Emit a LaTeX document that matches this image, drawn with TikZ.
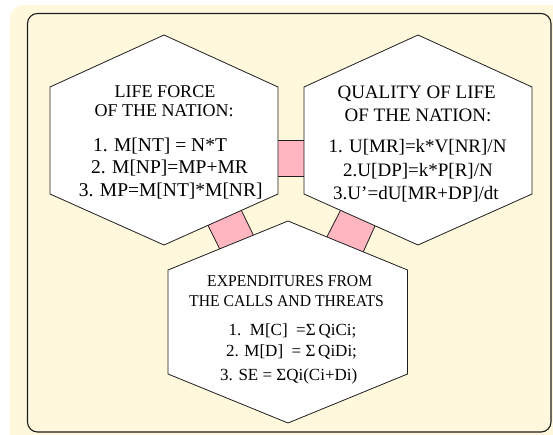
\documentclass[tikz,border=0pt]{standalone}
\usepackage{fontspec}
\setmainfont{Liberation Serif}
\newfontfamily\condfont[FakeStretch=0.95]{Liberation Serif}
\definecolor{cream}{RGB}{255,248,220}
\definecolor{linkpink}{RGB}{255,182,193}
\definecolor{inkgray}{RGB}{30,30,30}
\begin{document}
\begin{tikzpicture}[x=1pt,y=-1pt,
  hexbox/.style={draw=inkgray, fill=white, line width=0.8pt, line join=miter},
  linkbox/.style={fill=linkpink, draw=none},
  linkside/.style={draw=inkgray, line width=0.8pt},
  txt/.style={anchor=base, inner sep=0pt, text=black},
  headL/.style={txt, font=\fontsize{18}{20}\selectfont},
  headR/.style={txt, font=\fontsize{19}{21}\selectfont},
  headB/.style={txt, font=\condfont\fontsize{16.5}{18}\selectfont},
  formL/.style={txt, font=\fontsize{19.5}{21}\selectfont},
  formR/.style={txt, font=\fontsize{19}{21}\selectfont},
  formB/.style={txt, font=\fontsize{17}{19}\selectfont}]
\useasboundingbox (0,0) rectangle (553,434);
% background and frame
\fill[cream, rounded corners=14pt] (10,5) rectangle (580,460);
\draw[inkgray, line width=1.1pt, fill=cream, rounded corners=10pt] (27.5,13.5) rectangle (551,432);

% hexagon corners
\coordinate (L1) at (164,35);  \coordinate (L2) at (278,87);  \coordinate (L3) at (278,194);
\coordinate (L4) at (164,245); \coordinate (L5) at (50,194);  \coordinate (L6) at (50,87);
\coordinate (R1) at (418,35);  \coordinate (R2) at (532,87);  \coordinate (R3) at (532,194);
\coordinate (R4) at (418,245); \coordinate (R5) at (304,194); \coordinate (R6) at (304,87);
\coordinate (B1) at (288,221); \coordinate (B2) at (407.5,270); \coordinate (B3) at (407.5,374);
\coordinate (B4) at (288,423); \coordinate (B5) at (168,374); \coordinate (B6) at (168,270);

% connector corners
\coordinate (c1a) at (272,140); \coordinate (c1b) at (310,140);
\coordinate (c1c) at (310,176); \coordinate (c1d) at (272,176);
\coordinate (c2a) at (205.5,220.5); \coordinate (c2b) at (239.5,206.5);
\coordinate (c2c) at (255.5,239.5); \coordinate (c2d) at (222.2,253.8);
\coordinate (c3a) at (341.8,207.8); \coordinate (c3b) at (377.5,220.5);
\coordinate (c3c) at (360.8,257.2); \coordinate (c3d) at (324.2,242.2);

% connectors
\fill[linkbox] (c1a) -- (c1b) -- (c1c) -- (c1d) -- cycle;
\draw[linkside] (c1a) -- (c1b) (c1d) -- (c1c);
\fill[linkbox] (c2a) -- (c2b) -- (c2c) -- (c2d) -- cycle;
\draw[linkside] (c2b) -- (c2c) (c2a) -- (c2d);
\fill[linkbox] (c3a) -- (c3b) -- (c3c) -- (c3d) -- cycle;
\draw[linkside] (c3b) -- (c3c) (c3a) -- (c3d);

% hexagons
\draw[hexbox] (L1) -- (L2) -- (L3) -- (L4) -- (L5) -- (L6) -- cycle;
\draw[hexbox] (R1) -- (R2) -- (R3) -- (R4) -- (R5) -- (R6) -- cycle;
\draw[hexbox] (B1) -- (B2) -- (B3) -- (B4) -- (B5) -- (B6) -- cycle;

% left texts
\node[headL] (lh1) at (165,97.3) {LIFE FORCE};
\node[headL] (lh2) at (164,116) {OF THE NATION:};
\node[formL] (lf1) at (160,151.7) {1. M[NT] = N*T};
\node[formL] (lf2) at (169.5,173.3) {2. M[NP]=MP+MR};
\node[formL] (lf3) at (170.7,196.5) {3. MP=M[NT]*M[NR]};

% right texts
\node[headR] (rh1) at (416.7,98.3) {QUALITY OF LIFE};
\node[headR] (rh2) at (418,121) {OF THE NATION:};
\node[formR] (rf1) at (417.5,152.3) {1. U[MR]=k*V[NR]/N};
\node[formR] (rf2) at (418,176) {2.U[DP]=k*P[R]/N};
\node[formR] (rf3) at (416,199.3) {3.U’=dU[MR+DP]/dt};

% bottom texts
\node[headB] (bh1) at (289.7,286.7) {EXPENDITURES FROM};
\node[headB] (bh2) at (286.5,306) {THE CALLS AND THREATS};
\node[formB] (bf1) at (292.5,335.7) {1.\ \ M[C]\ \ =Σ\,QiCi;};
\node[formB] (bf2) at (291.5,356) {2. M[D]\ \ = Σ\,QiDi;};
\node[formB] (bf3) at (288.7,380) {3. SE = ΣQi(Ci+Di)};
\end{tikzpicture}
\end{document}
